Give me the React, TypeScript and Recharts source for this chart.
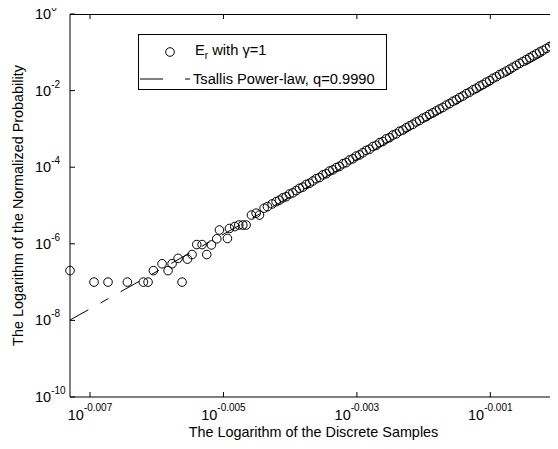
import React from 'react';
import { ScatterChart, Scatter, XAxis, YAxis, Label } from 'recharts';

const FONT = '"Liberation Sans", Arial, Helvetica, sans-serif';

// exponents (log10)
const sparseX = [
  -0.0073, -0.00694, -0.00673, -0.00644, -0.0062, -0.00613, -0.00605, -0.00592,
  -0.00583, -0.00577, -0.00568, -0.00562, -0.00554, -0.00547, -0.0054, -0.00532,
  -0.00525, -0.00518, -0.0051, -0.00506, -0.00494, -0.00491, -0.00483, -0.00477,
  -0.00471, -0.00466, -0.00458, -0.00451, -0.00446, -0.00439, -0.00434, -0.00427,
  -0.00421, -0.00416,
];
const sparseY = [
  -6.7, -7, -7, -7, -7, -7, -6.7, -6.52, -6.7, -6.52, -6.38, -7, -6.4, -6.28,
  -6.02, -6.02, -6.28, -6.03, -5.87, -5.64, -5.86, -5.6, -5.55, -5.51, -5.51,
  -5.51, -5.25, -5.2, -5.25, -5.07, -5.03, -4.96, -4.9, -4.86,
];

const bandX = [
  -0.00411, -0.00406, -0.00401, -0.00396, -0.00391, -0.00386, -0.00381, -0.00376,
  -0.00371, -0.00366, -0.00361, -0.00356, -0.00351, -0.00346, -0.00341, -0.00336,
  -0.00331, -0.00326, -0.00321, -0.00316, -0.00311, -0.00306, -0.00301, -0.00296,
  -0.00291, -0.00286, -0.00281, -0.00276, -0.00271, -0.00266, -0.00261, -0.00256,
  -0.00251, -0.00246, -0.00241, -0.00236, -0.00231, -0.00226, -0.00221, -0.00216,
  -0.00211, -0.00206, -0.00201, -0.00196, -0.00191, -0.00186, -0.00181, -0.00176,
  -0.00171, -0.00166, -0.00161, -0.00156, -0.00151, -0.00146, -0.00141, -0.00136,
  -0.00131, -0.00126, -0.00121, -0.00116, -0.00111, -0.00106, -0.00101, -0.00096,
  -0.00091, -0.00086, -0.00081, -0.00076, -0.00071, -0.00066, -0.00061, -0.00056,
  -0.00051, -0.00046, -0.00041, -0.00036, -0.00031, -0.00026, -0.00021, -0.00016,
  -0.00011, -0.00006,
];
const bandY = [
  -4.8, -4.77, -4.7, -4.67, -4.61, -4.55, -4.52, -4.45, -4.42, -4.36, -4.3, -4.27,
  -4.2, -4.17, -4.1, -4.07, -4.01, -3.98, -3.91, -3.88, -3.81, -3.78, -3.71, -3.68,
  -3.62, -3.56, -3.53, -3.46, -3.43, -3.36, -3.33, -3.26, -3.23, -3.16, -3.13, -3.06,
  -3.03, -2.97, -2.92, -2.88, -2.82, -2.78, -2.72, -2.68, -2.62, -2.58, -2.53, -2.48,
  -2.44, -2.38, -2.34, -2.28, -2.24, -2.18, -2.14, -2.08, -2.04, -1.98, -1.94, -1.88,
  -1.84, -1.78, -1.74, -1.68, -1.64, -1.58, -1.54, -1.49, -1.44, -1.39, -1.34, -1.29,
  -1.24, -1.19, -1.14, -1.09, -1.04, -0.99, -0.95, -0.9, -0.85, -0.8,
];

const fitX = [-0.0073, 0];
const fitY = [-7.99, -0.88];

const xTicks = [-0.007, -0.005, -0.003, -0.001];
const yTicks = [0, -2, -4, -6, -8, -10];
const xDomain = [-0.0073, 0];
const yDomain = [-10, 0];

// plot box in page pixels
const BOX = { left: 70, top: 14, right: 557, bottom: 397 };

const points = [...sparseX, ...bandX].map((x, i) => ({
  x,
  y: [...sparseY, ...bandY][i],
}));
const fitLine = fitX.map((x, i) => ({ x, y: fitY[i] }));

const expText = (v: number) => (v === 0 ? '0' : String(v));

const BottomTick = ({ x, y, payload }: any) => (
  <g>
    <line x1={x} x2={x} y1={y} y2={y - 5} stroke="#000" />
    <text x={x} y={y + 23} textAnchor="middle" fontSize={14.5} fontFamily={FONT} fill="#000">
      10
      <tspan dy={-9} fontSize={10}>
        {expText(payload.value)}
      </tspan>
    </text>
  </g>
);

const LeftTick = ({ x, y, payload }: any) => (
  <g>
    <line x1={x} x2={x + 5} y1={y} y2={y} stroke="#000" />
    <text x={x - 35} y={y + 5} textAnchor="start" fontSize={14.5} fontFamily={FONT} fill="#000">
      10
      <tspan dy={-8} fontSize={10}>
        {expText(payload.value)}
      </tspan>
    </text>
  </g>
);

const Ring = ({ cx, cy }: any) => (
  <circle cx={cx} cy={cy} r={4.3} fill="none" stroke="#000" strokeWidth={1} />
);

// top and right edges of the axes box with inward ticks (same domain as the axes)
const BoxEdges = () => {
  const sx = (v: number) =>
    BOX.left + ((v - xDomain[0]) / (xDomain[1] - xDomain[0])) * (BOX.right - BOX.left);
  const sy = (v: number) =>
    BOX.bottom - ((v - yDomain[0]) / (yDomain[1] - yDomain[0])) * (BOX.bottom - BOX.top);
  return (
    <svg
      width={558}
      height={449}
      style={{ position: 'absolute', left: 0, top: 0, pointerEvents: 'none' }}
    >
      <line x1={BOX.left} x2={BOX.right + 0.5} y1={BOX.top + 0.5} y2={BOX.top + 0.5} stroke="#000" />
      <line x1={BOX.right + 0.5} x2={BOX.right + 0.5} y1={BOX.top} y2={BOX.bottom} stroke="#000" />
      {xTicks.map((t) => (
        <line key={`tx${t}`} x1={sx(t)} x2={sx(t)} y1={BOX.top} y2={BOX.top + 5} stroke="#000" />
      ))}
      {yTicks.slice(1, -1).map((t) => (
        <line key={`ty${t}`} x1={BOX.right} x2={BOX.right - 5} y1={sy(t)} y2={sy(t)} stroke="#000" />
      ))}
    </svg>
  );
};

const Legend = () => (
  <svg
    width={250}
    height={56}
    style={{ position: 'absolute', left: 138, top: 34, fontFamily: FONT }}
  >
    <rect x={0.5} y={0.5} width={248} height={55} fill="#fff" stroke="#000" />
    <circle cx={32} cy={18} r={4.3} fill="none" stroke="#000" />
    <text x={57} y={21} fontSize={14.7} fill="#000">
      E<tspan dy={4} fontSize={10}>r</tspan>
      <tspan dy={-4}> with γ=1</tspan>
    </text>
    <line x1={2} x2={25} y1={45} y2={45} stroke="#000" />
    <line x1={47} x2={52} y1={45} y2={45} stroke="#000" />
    <text x={55} y={49.5} fontSize={14.7} fill="#000">
      Tsallis Power-law, q=0.9990
    </text>
  </svg>
);

export default function App() {
  // negative margin cancels the body margin so the chart uses page coordinates
  return (
    <div style={{ position: 'relative', width: 558, height: 449, margin: -8 }}>
      <ScatterChart width={558} height={449} margin={{ top: 14, right: 1, bottom: 0, left: 0 }}>
        <XAxis
          type="number"
          dataKey="x"
          domain={xDomain}
          ticks={xTicks}
          interval={0}
          height={52}
          tickSize={0}
          tickMargin={0}
          tickLine={false}
          stroke="#000"
          tick={<BottomTick />}
        >
          <Label
            value="The Logarithm of the Discrete Samples"
            position="insideBottom"
            offset={12}
            fontSize={14.4}
            fontFamily={FONT}
            fill="#000"
          />
        </XAxis>
        <YAxis
          type="number"
          dataKey="y"
          domain={yDomain}
          ticks={yTicks}
          interval={0}
          width={70}
          tickSize={0}
          tickMargin={0}
          tickLine={false}
          stroke="#000"
          tick={<LeftTick />}
        >
          <Label
            value="The Logarithm of the Normalized Probability"
            angle={-90}
            position="insideLeft"
            offset={17.5}
            fontSize={14.4}
            fontFamily={FONT}
            fill="#000"
            style={{ textAnchor: 'middle' }}
          />
        </YAxis>
        <Scatter
          data={fitLine}
          line={{ stroke: '#000', strokeWidth: 1, strokeDasharray: '21 14 9 14' }}
          shape={() => <g />}
          isAnimationActive={false}
        />
        <Scatter data={points} shape={<Ring />} isAnimationActive={false} />
      </ScatterChart>
      <BoxEdges />
      <Legend />
    </div>
  );
}
